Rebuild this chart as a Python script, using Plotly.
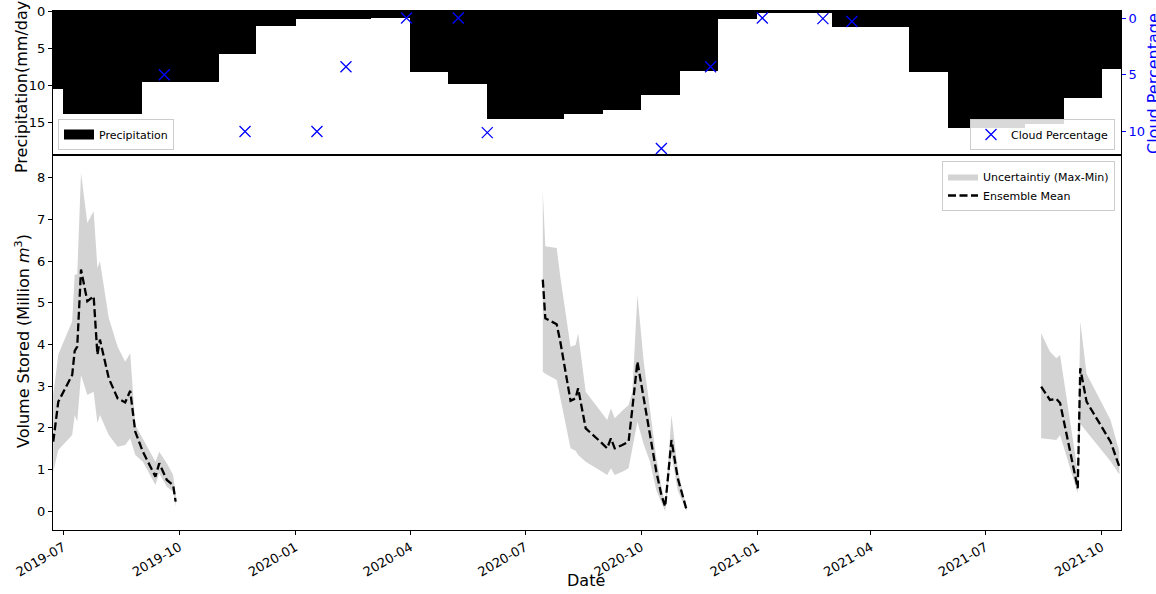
import pandas as pd
import plotly.graph_objects as go

# ---------------- data ----------------
precip_months = ["2019-06", "2019-07", "2019-08", "2019-09", "2019-10", "2019-11", "2019-12",
                 "2020-01", "2020-02", "2020-03", "2020-04", "2020-05", "2020-06", "2020-07",
                 "2020-08", "2020-09", "2020-10", "2020-11", "2020-12", "2021-01", "2021-02",
                 "2021-03", "2021-04", "2021-05", "2021-06", "2021-07", "2021-08", "2021-09",
                 "2021-10"]
precip_values = [10.4, 13.8, 13.8, 9.5, 9.5, 5.8, 2.0,
                 1.05, 1.05, 0.95, 8.2, 9.8, 14.5, 14.5,
                 13.8, 13.3, 11.3, 8.05, 1.05, 0.2, 0.2,
                 2.1, 2.1, 8.2, 15.7, 15.7, 15.2, 11.6,
                 7.8]

cloud_dates = ["2019-09-19", "2019-11-22", "2020-01-18", "2020-02-10", "2020-03-29", "2020-05-09",
               "2020-06-01", "2020-10-17", "2020-11-25", "2021-01-05", "2021-02-22", "2021-03-17"]
cloud_pct = [5.0, 10.0, 10.0, 4.3, 0.0, 0.0, 10.1, 11.5, 4.3, 0.0, 0.05, 0.3]

seg1_dates = ["2019-06-23", "2019-06-27", "2019-07-08", "2019-07-10", "2019-07-12", "2019-07-15",
              "2019-07-20", "2019-07-25", "2019-07-28", "2019-07-30", "2019-08-06", "2019-08-13",
              "2019-08-19", "2019-08-23", "2019-08-27", "2019-09-02", "2019-09-12", "2019-09-15",
              "2019-09-21", "2019-09-26", "2019-09-28"]
seg1_mean = [1.67, 2.63, 3.27, 3.85, 3.95, 5.80, 5.04, 5.16, 3.76, 4.12, 3.19, 2.71,
             2.61, 2.89, 1.91, 1.43, 0.83, 1.15, 0.75, 0.63, 0.23]
seg1_max = [2.79, 3.76, 4.56, 5.68, 5.68, 8.12, 6.92, 7.20, 5.84, 6.00, 4.64, 3.95,
            3.59, 3.79, 2.07, 1.75, 1.19, 1.43, 1.15, 0.87, 0.39]
seg1_min = [0.95, 1.47, 1.83, 2.31, 2.15, 3.27, 2.79, 2.87, 2.11, 2.31, 1.83, 1.55,
            1.59, 1.75, 1.35, 1.19, 0.63, 0.91, 0.59, 0.47, 0.11]

seg2_dates = ["2020-07-15", "2020-07-17", "2020-07-26", "2020-07-29", "2020-08-06", "2020-08-10",
              "2020-08-12", "2020-08-18", "2020-08-31", "2020-09-04", "2020-09-07", "2020-09-10",
              "2020-09-16", "2020-09-21", "2020-09-24", "2020-09-28", "2020-10-03", "2020-10-08",
              "2020-10-13", "2020-10-17", "2020-10-20", "2020-10-25", "2020-10-30", "2020-11-06"]
seg2_mean = [5.56, 4.63, 4.49, 4.05, 2.65, 2.71, 2.95, 1.99, 1.63, 1.51, 1.75, 1.51,
             1.59, 1.67, 2.47, 3.59, 2.71, 1.83, 0.95, 0.39, 0.11, 1.71, 0.79, 0.03]
seg2_max = [7.68, 6.36, 6.32, 5.60, 3.95, 3.99, 4.27, 2.87, 2.35, 2.19, 2.47, 2.23,
            2.41, 2.55, 2.87, 5.20, 3.59, 2.39, 1.27, 0.60, 0.15, 2.31, 1.00, 0.07]
seg2_min = [3.35, 3.30, 3.15, 2.65, 1.51, 1.45, 1.35, 1.19, 0.95, 0.87, 1.03, 0.87,
            0.95, 1.03, 1.50, 2.15, 1.60, 1.19, 0.50, 0.20, 0.00, 1.35, 0.50, 0.00]

seg3_dates = ["2021-08-14", "2021-08-21", "2021-08-26", "2021-08-29", "2021-09-12", "2021-09-14",
              "2021-09-19", "2021-10-08", "2021-10-15"]
seg3_mean = [2.99, 2.67, 2.70, 2.60, 0.55, 3.43, 2.63, 1.67, 1.07]
seg3_max = [4.27, 3.83, 3.67, 3.75, 0.95, 4.56, 3.30, 2.19, 1.43]
seg3_min = [1.75, 1.72, 1.71, 1.83, 0.43, 2.10, 1.90, 1.20, 0.88]

x_ticks = ["2019-07-01", "2019-10-01", "2020-01-01", "2020-04-01", "2020-07-01",
           "2020-10-01", "2021-01-01", "2021-04-01", "2021-07-01", "2021-10-01"]

# ---------------- figure ----------------
FONT = "DejaVu Sans"
W, H = 1156, 594
ML, MT, MB = 53, 11, 64
PW = 1068
MR = W - ML - PW
PH = H - MT - MB
split = 1 - 144 / PH  # top panel height 144 px

fig = go.Figure()

starts = pd.to_datetime(precip_months, format="%Y-%m")
ends = starts + pd.offsets.MonthBegin(1)
widths = [(e - s).total_seconds() * 1000 for s, e in zip(starts, ends)]

fig.add_trace(go.Bar(
    x=starts, y=precip_values, width=widths, offset=0,
    marker=dict(color="black", line=dict(width=0)),
    name="Precipitation", xaxis="x2", yaxis="y2", showlegend=False,
))
# legend entry for the bars (drawn as a wide patch like the original)
fig.add_trace(go.Scatter(
    x=[None], y=[None], mode="lines", line=dict(color="black", width=10),
    name="Precipitation", xaxis="x2", yaxis="y2", legend="legend2",
))

fig.add_trace(go.Scatter(
    x=pd.to_datetime(cloud_dates), y=cloud_pct, mode="markers",
    marker=dict(symbol="x-thin", size=11, line=dict(width=1.3, color="blue"), color="blue"),
    name="Cloud Percentage", xaxis="x2", yaxis="y3", legend="legend3",
))

segments = [(seg1_dates, seg1_mean, seg1_max, seg1_min),
            (seg2_dates, seg2_mean, seg2_max, seg2_min),
            (seg3_dates, seg3_mean, seg3_max, seg3_min)]

for i, (d, m, hi, lo) in enumerate(segments):
    dd = list(pd.to_datetime(d))
    fig.add_trace(go.Scatter(
        x=dd + dd[::-1], y=list(hi) + list(lo)[::-1],
        fill="toself", fillcolor="#d3d3d3", line=dict(width=0, color="#d3d3d3"),
        mode="lines", name="Uncertaintiy (Max-Min)", legendgroup="unc",
        showlegend=(i == 0), xaxis="x", yaxis="y", legend="legend",
    ))
for i, (d, m, hi, lo) in enumerate(segments):
    fig.add_trace(go.Scatter(
        x=pd.to_datetime(d), y=m, mode="lines",
        line=dict(color="black", width=2.3, dash="8px,3.5px"),
        name="Ensemble Mean", legendgroup="mean",
        showlegend=(i == 0), xaxis="x", yaxis="y", legend="legend",
    ))

x_range = ["2019-06-22 19:00", "2021-10-16 07:00"]
axis_common = dict(showline=True, linecolor="black", linewidth=1, mirror=True,
                   showgrid=False, zeroline=False, ticks="outside", ticklen=4,
                   tickwidth=1, tickcolor="black",
                   tickfont=dict(family=FONT, size=13, color="black"))

legend_style = dict(bgcolor="rgba(255,255,255,0.85)", bordercolor="#cccccc", borderwidth=1,
                    font=dict(family=FONT, size=11, color="black"), itemwidth=30,
                    tracegroupgap=0)


def px_x(px):
    return (px - ML) / PW


def px_y(py):
    return (H - MB - py) / PH


fig.update_layout(
    width=W, height=H,
    margin=dict(l=ML, r=MR, t=MT, b=MB, autoexpand=False),
    paper_bgcolor="white", plot_bgcolor="white",
    font=dict(family=FONT, size=13, color="black"),
    bargap=0,
    xaxis=dict(type="date", range=x_range, domain=[0, 1], anchor="y",
               tickvals=x_ticks, tickformat="%Y-%m", tickangle=-30, **axis_common),
    xaxis2=dict(type="date", range=x_range, domain=[0, 1], anchor="y2", matches="x",
                showticklabels=False, showline=True, linecolor="black", linewidth=1,
                mirror=True, showgrid=False, zeroline=False, ticks=""),
    yaxis=dict(domain=[0, split], range=[-0.45, 8.55], anchor="x",
               tickvals=list(range(0, 9)), **axis_common),
    yaxis2=dict(domain=[split, 1], range=[19.3, 0], anchor="x2",
                tickvals=[0, 5, 10, 15], **axis_common),
    yaxis3=dict(overlaying="y2", side="right", anchor="x2", range=[12.07, -0.62],
                tickvals=[0, 5, 10], showgrid=False, zeroline=False, showline=False,
                ticks="outside", ticklen=4, tickwidth=1, tickcolor="blue",
                tickfont=dict(family=FONT, size=13, color="blue")),
    legend=dict(x=px_x(1115), y=px_y(161), xanchor="right", yanchor="top", **legend_style),
    legend2=dict(x=px_x(58), y=px_y(150), xanchor="left", yanchor="bottom", **legend_style),
    legend3=dict(x=px_x(1115), y=px_y(150), xanchor="right", yanchor="bottom", **legend_style),
    showlegend=True,
)

annotations = [
    dict(text="Precipitation(mm/day)", x=px_x(22), y=px_y(84), textangle=-90),
    dict(text="Volume Stored (Million <i>m</i><sup>3</sup>)", x=px_x(22), y=px_y(341), textangle=-90),
    dict(text="Cloud Percentage", x=px_x(1154), y=px_y(84), textangle=-90,
         font=dict(family=FONT, size=16, color="blue")),
    dict(text="Date", x=px_x(586), y=px_y(580), textangle=0),
]
for a in annotations:
    a.setdefault("font", dict(family=FONT, size=16, color="black"))
    fig.add_annotation(xref="paper", yref="paper", showarrow=False,
                       xanchor="center", yanchor="middle", **a)

fig.write_html("out.html", config={"displayModeBar": False},
               post_script="document.body.style.margin='0px';document.body.style.overflow='hidden';")
